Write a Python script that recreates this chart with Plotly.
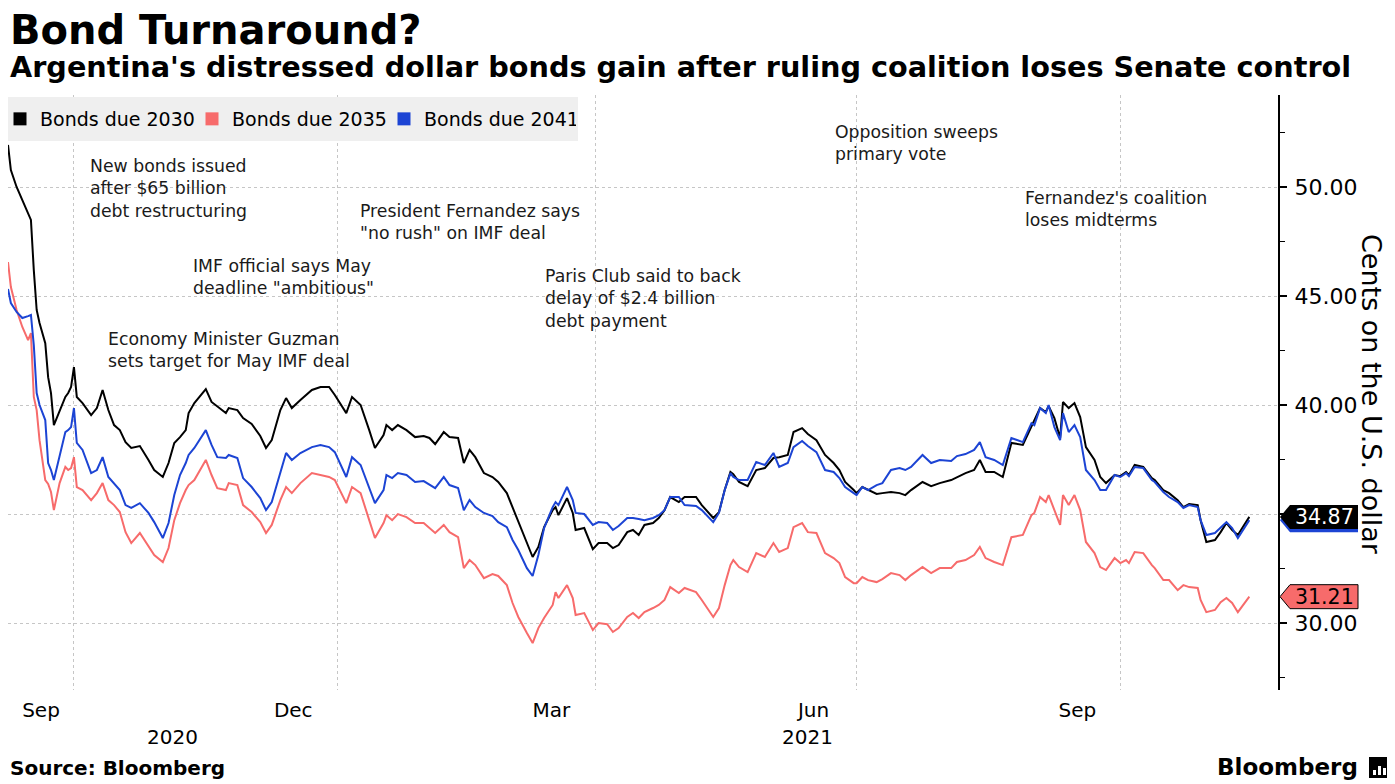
import plotly.graph_objects as go
import pandas as pd

# ---------------- data ----------------
dates = [
    "2020-09-08", "2020-09-09", "2020-09-11", "2020-09-13", "2020-09-15", "2020-09-16", "2020-09-17", "2020-09-18", "2020-09-19", "2020-09-21",
    "2020-09-22", "2020-09-23", "2020-09-24", "2020-09-26", "2020-09-28", "2020-09-29", "2020-09-30", "2020-10-01", "2020-10-02", "2020-10-04",
    "2020-10-07", "2020-10-09", "2020-10-11", "2020-10-13", "2020-10-15", "2020-10-17", "2020-10-19", "2020-10-21", "2020-10-24", "2020-10-27",
    "2020-10-29", "2020-11-01", "2020-11-03", "2020-11-05", "2020-11-07", "2020-11-09", "2020-11-10", "2020-11-12", "2020-11-16", "2020-11-18",
    "2020-11-20", "2020-11-23", "2020-11-24", "2020-11-27", "2020-11-29", "2020-12-02", "2020-12-05", "2020-12-07", "2020-12-09", "2020-12-12",
    "2020-12-14", "2020-12-16", "2020-12-19", "2020-12-23", "2020-12-26", "2020-12-29", "2020-12-31", "2021-01-04", "2021-01-06", "2021-01-09",
    "2021-01-12", "2021-01-14", "2021-01-17", "2021-01-18", "2021-01-20", "2021-01-22", "2021-01-25", "2021-01-28", "2021-01-31", "2021-02-02",
    "2021-02-04", "2021-02-07", "2021-02-09", "2021-02-12", "2021-02-14", "2021-02-16", "2021-02-18", "2021-02-21", "2021-02-24", "2021-02-26",
    "2021-03-01", "2021-03-03", "2021-03-05", "2021-03-08", "2021-03-10", "2021-03-12", "2021-03-14", "2021-03-17", "2021-03-18", "2021-03-19",
    "2021-03-22", "2021-03-24", "2021-03-25", "2021-03-28", "2021-03-31", "2021-04-02", "2021-04-05", "2021-04-07", "2021-04-09", "2021-04-12",
    "2021-04-14", "2021-04-16", "2021-04-18", "2021-04-21", "2021-04-23", "2021-04-25", "2021-04-27", "2021-04-30", "2021-05-02", "2021-05-06",
    "2021-05-08", "2021-05-12", "2021-05-14", "2021-05-16", "2021-05-18", "2021-05-19", "2021-05-21", "2021-05-24", "2021-05-27", "2021-05-30",
    "2021-06-02", "2021-06-04", "2021-06-07", "2021-06-09", "2021-06-12", "2021-06-14", "2021-06-17", "2021-06-20", "2021-06-23", "2021-06-25",
    "2021-06-27", "2021-06-30", "2021-07-01", "2021-07-03", "2021-07-05", "2021-07-08", "2021-07-10", "2021-07-13", "2021-07-16", "2021-07-18",
    "2021-07-20", "2021-07-24", "2021-07-27", "2021-07-30", "2021-08-03", "2021-08-05", "2021-08-08", "2021-08-11", "2021-08-13", "2021-08-15",
    "2021-08-18", "2021-08-21", "2021-08-24", "2021-08-28", "2021-08-31", "2021-09-01", "2021-09-03", "2021-09-05", "2021-09-06", "2021-09-08",
    "2021-09-10", "2021-09-11", "2021-09-13", "2021-09-15", "2021-09-17", "2021-09-19", "2021-09-22", "2021-09-24", "2021-09-26", "2021-09-29",
    "2021-10-01", "2021-10-03", "2021-10-04", "2021-10-06", "2021-10-09", "2021-10-12", "2021-10-13", "2021-10-16", "2021-10-18", "2021-10-21",
    "2021-10-23", "2021-10-25", "2021-10-28", "2021-10-29", "2021-10-31", "2021-11-03", "2021-11-05", "2021-11-07", "2021-11-09", "2021-11-11",
    "2021-11-15",
]

bonds_2030 = [
    51.93, 50.78, 50.00, 49.40, 48.72, 48.49, 46.19, 44.36, 43.76, 42.84,
    41.28, 40.55, 39.08, 39.77, 40.37, 40.55, 40.83, 41.74, 40.37, 40.09,
    39.54, 39.86, 40.69, 39.77, 39.08, 38.85, 38.30, 38.03, 38.12, 37.48,
    37.02, 36.70, 37.34, 38.26, 38.53, 38.85, 39.63, 40.09, 40.73, 40.14,
    39.95, 39.63, 39.86, 39.77, 39.40, 39.13, 38.58, 38.03, 38.39, 39.77,
    40.32, 39.86, 40.23, 40.69, 40.83, 40.83, 40.46, 39.63, 40.37, 40.00,
    38.85, 38.03, 38.62, 39.08, 38.85, 39.08, 38.85, 38.53, 38.58, 38.49,
    38.21, 38.76, 38.53, 38.49, 37.34, 37.94, 37.61, 36.88, 36.70, 36.47,
    35.96, 35.32, 34.59, 33.67, 33.03, 33.49, 34.40, 35.18, 35.32, 34.95,
    35.73, 35.05, 34.27, 34.36, 33.39, 33.67, 33.67, 33.44, 33.58, 34.17,
    34.27, 34.04, 34.50, 34.59, 34.82, 35.18, 35.78, 35.55, 35.78, 35.78,
    35.41, 34.82, 35.09, 36.10, 36.93, 36.83, 36.47, 36.28, 37.02, 37.11,
    37.57, 37.61, 37.71, 38.76, 38.94, 38.67, 38.39, 37.71, 37.34, 37.02,
    36.47, 36.10, 35.96, 36.24, 36.10, 35.92, 35.96, 36.01, 35.96, 35.87,
    36.10, 36.47, 36.28, 36.42, 36.56, 36.70, 36.88, 37.02, 37.48, 36.93,
    36.93, 36.70, 38.26, 38.17, 38.99, 39.31, 39.86, 39.68, 39.95, 39.40,
    38.49, 40.14, 39.86, 40.09, 39.45, 38.07, 37.48, 36.70, 36.42, 36.79,
    36.74, 36.93, 36.79, 37.25, 37.16, 36.65, 36.56, 36.10, 35.96, 35.64,
    35.32, 35.46, 35.41, 34.72, 33.72, 33.81, 34.17, 34.59, 34.27, 34.04,
    34.87,
]

bonds_2035 = [
    46.56, 45.41, 44.36, 43.58, 42.98, 43.30, 40.37, 39.77, 38.39, 36.56,
    36.38, 36.01, 35.18, 36.42, 37.16, 37.02, 37.11, 37.61, 36.24, 36.10,
    35.64, 35.96, 36.42, 35.64, 35.41, 35.09, 34.17, 33.67, 34.13, 33.49,
    33.12, 32.80, 33.44, 34.72, 35.50, 36.10, 36.33, 36.56, 37.48, 36.79,
    36.19, 36.10, 36.42, 36.33, 35.41, 35.09, 34.63, 34.13, 34.50, 35.64,
    36.24, 35.96, 36.42, 36.88, 36.79, 36.70, 36.56, 35.50, 36.24, 35.96,
    34.72, 33.90, 34.59, 34.95, 34.72, 35.00, 34.86, 34.59, 34.59, 34.36,
    34.13, 34.50, 34.17, 33.94, 32.52, 32.89, 32.66, 32.06, 32.25, 32.16,
    31.74, 30.92, 30.28, 29.54, 29.08, 29.77, 30.23, 30.83, 31.42, 31.15,
    31.74, 31.15, 30.37, 30.46, 29.68, 30.00, 29.95, 29.59, 29.77, 30.28,
    30.46, 30.23, 30.50, 30.69, 30.83, 31.06, 31.65, 31.38, 31.61, 31.42,
    31.06, 30.28, 30.69, 31.74, 32.66, 32.89, 32.57, 32.34, 33.21, 33.03,
    33.67, 33.26, 33.44, 34.40, 34.59, 34.17, 34.13, 33.21, 32.98, 32.75,
    32.11, 31.83, 31.83, 32.11, 31.97, 31.88, 32.02, 32.29, 32.20, 31.97,
    32.20, 32.57, 32.29, 32.52, 32.52, 32.80, 32.89, 33.12, 33.49, 32.98,
    32.80, 32.66, 33.94, 34.04, 34.95, 35.05, 35.78, 35.55, 35.87, 35.18,
    34.50, 35.87, 35.41, 35.87, 35.18, 33.72, 33.21, 32.57, 32.43, 32.98,
    32.75, 32.89, 32.75, 33.26, 33.21, 32.66, 32.52, 31.97, 31.97, 31.51,
    31.74, 31.65, 31.61, 31.06, 30.50, 30.60, 30.96, 31.15, 30.92, 30.50,
    31.21,
]

bonds_2041 = [
    45.32, 44.68, 44.27, 43.99, 44.08, 44.13, 42.75, 40.55, 40.00, 39.31,
    37.34, 37.02, 36.56, 37.61, 38.76, 38.85, 38.99, 39.86, 38.26, 37.94,
    36.88, 37.02, 37.61, 36.70, 36.42, 36.10, 35.41, 35.28, 35.50, 35.05,
    34.63, 33.90, 34.59, 35.87, 36.79, 37.34, 37.71, 38.03, 38.85, 38.17,
    37.61, 37.57, 37.71, 37.57, 36.65, 36.24, 35.73, 35.18, 35.55, 36.88,
    37.80, 37.48, 37.80, 38.07, 38.17, 38.07, 37.84, 36.70, 37.61, 37.25,
    36.24, 35.50, 36.10, 36.79, 36.65, 36.88, 36.79, 36.47, 36.51, 36.33,
    36.19, 36.70, 36.33, 36.19, 35.18, 35.64, 35.32, 35.05, 34.91, 34.63,
    34.40, 33.81, 33.35, 32.52, 32.16, 33.12, 34.36, 35.32, 35.55, 35.41,
    36.24, 35.64, 35.05, 35.00, 34.50, 34.63, 34.59, 34.27, 34.45, 34.82,
    34.82, 34.77, 34.72, 34.82, 34.95, 35.18, 35.78, 35.78, 35.41, 35.37,
    35.18, 34.63, 35.05, 36.10, 36.88, 36.70, 36.56, 36.56, 37.39, 37.25,
    37.80, 37.16, 37.34, 38.07, 38.35, 38.12, 37.84, 37.02, 36.93, 36.65,
    36.24, 35.96, 35.87, 36.24, 36.10, 36.33, 36.42, 37.02, 37.11, 37.02,
    37.16, 37.71, 37.34, 37.48, 37.43, 37.66, 37.75, 37.94, 38.30, 37.61,
    37.48, 37.25, 38.49, 38.30, 39.17, 39.08, 39.86, 39.63, 40.00, 38.99,
    38.39, 39.63, 38.76, 39.08, 38.53, 37.02, 36.56, 36.10, 36.10, 36.79,
    36.70, 36.88, 36.74, 37.16, 37.11, 36.56, 36.47, 36.01, 35.78, 35.55,
    35.28, 35.41, 35.32, 34.72, 34.04, 34.13, 34.40, 34.63, 34.36, 33.90,
    34.72,
]

series_names = ["Bonds due 2030", "Bonds due 2035", "Bonds due 2041"]
series_values = [bonds_2030, bonds_2035, bonds_2041]

label_months = ["2020-09", "2020-12", "2021-03", "2021-06", "2021-09"]
month_tick_text = ["Sep", "Dec", "Mar", "Jun", "Sep"]
quarter_grid_dates = ["2020-10-01", "2021-01-01", "2021-04-01", "2021-07-01", "2021-10-01"]
year_labels = ["2020", "2021"]
year_start = "2021-01-01"
x_range = ["2020-09-08", "2021-11-25"]
y_range = [26.93, 54.22]

events = [
    "New bonds issued<br>after $65 billion<br>debt restructuring",
    "IMF official says May<br>deadline \"ambitious\"",
    "Economy Minister Guzman<br>sets target for May IMF deal",
    "President Fernandez says<br>\"no rush\" on IMF deal",
    "Paris Club said to back<br>delay of $2.4 billion<br>debt payment",
    "Opposition sweeps<br>primary vote",
    "Fernandez's coalition<br>loses midterms",
]

# ---------------- styles / layout geometry ----------------
OFF = 8                      # page margin the browser adds around the figure
W, H = 1387, 776             # figure size
FL, FR, FT, FB = 0, 1270, 87, 682   # plot area in figure pixels
FONT = "DejaVu Sans"
colors = ["#000000", "#f76b6b", "#1c44d4"]
GRID = "#c6c6c6"


def px(xr):
    """page x pixel -> paper x"""
    return (xr - OFF - FL) / (FR - FL)


def py(yr):
    """page y pixel -> paper y"""
    return (FB - (yr - OFF)) / (FB - FT)


# page-pixel anchor (left, top) of each event note
event_pos = [(88, 154), (191, 254), (106, 327), (358, 199), (543, 264), (833, 120), (1023, 186)]

fig = go.Figure()

for name, vals, col in zip(series_names, series_values, colors):
    fig.add_trace(go.Scatter(
        x=dates, y=vals, mode="lines", name=name,
        line=dict(color=col, width=2), showlegend=False, hoverinfo="skip",
    ))

# legend entries shown as coloured squares
for name, col in zip(series_names, colors):
    fig.add_trace(go.Scatter(
        x=[None], y=[None], mode="markers", name=name,
        marker=dict(symbol="square", size=13, color=col), showlegend=True,
    ))

# month labels centred on the visible part of each month
r0 = pd.Timestamp(x_range[0]); r1 = pd.Timestamp(x_range[1])
month_tick_vals = []
for m in label_months:
    ms = pd.Timestamp(m + "-01")
    me = ms + pd.offsets.MonthBegin(1)
    a = max(ms, r0); b = min(me, r1)
    month_tick_vals.append(a + (b - a) / 2)

annotations = []

# titles
annotations.append(dict(text="<b>Bond Turnaround?</b>", xref="paper", yref="paper",
                        x=px(8), y=py(30), xanchor="left", yanchor="middle",
                        showarrow=False, font=dict(family=FONT, size=40, color="#000")))
annotations.append(dict(text="<b>Argentina's distressed dollar bonds gain after ruling coalition loses Senate control</b>",
                        xref="paper", yref="paper", x=px(8), y=py(67), xanchor="left", yanchor="middle",
                        showarrow=False, font=dict(family=FONT, size=28.7, color="#000")))

# event notes
for txt, (ex, ey) in zip(events, event_pos):
    annotations.append(dict(text=txt, xref="paper", yref="paper", x=px(ex), y=py(ey),
                            xanchor="left", yanchor="top", align="left", showarrow=False,
                            font=dict(family=FONT, size=17.3, color="#1a1a1a")))

# y-axis title (reads top-to-bottom)
annotations.append(dict(text="Cents on the U.S. dollar", xref="paper", yref="paper",
                        x=px(1372), y=py(394), xanchor="center", yanchor="middle",
                        textangle=90, showarrow=False, font=dict(family=FONT, size=27, color="#000")))

# year labels centred under their portion of the axis
ys = pd.Timestamp(year_start)
year_centres = [r0 + (ys - r0) / 2, ys + (r1 - ys) / 2]
for lab, c in zip(year_labels, year_centres):
    annotations.append(dict(text=lab, xref="x", yref="paper", x=c, y=py(737),
                            xanchor="center", yanchor="middle", showarrow=False,
                            font=dict(family=FONT, size=20, color="#000")))

# source / brand
annotations.append(dict(text="<b>Source: Bloomberg</b>", xref="paper", yref="paper",
                        x=px(8), y=py(768), xanchor="left", yanchor="middle", showarrow=False,
                        font=dict(family=FONT, size=20, color="#000")))
annotations.append(dict(text="<b>Bloomberg</b>", xref="paper", yref="paper",
                        x=px(1360), y=py(767), xanchor="right", yanchor="middle", showarrow=False,
                        font=dict(family=FONT, size=23, color="#000")))

shapes = []
# legend background band
shapes.append(dict(type="rect", xref="paper", yref="paper", x0=px(8), x1=px(578),
                   y0=py(141), y1=py(97), fillcolor="#efefef", line=dict(width=0), layer="above"))
# brand icon
shapes.append(dict(type="rect", xref="paper", yref="paper", x0=px(1369), x1=px(1389),
                   y0=py(778), y1=py(757), fillcolor="#000", line=dict(width=0)))
for bx0, bx1, btop in [(1373, 1376, 770), (1378, 1381, 766), (1383, 1386, 768)]:
    shapes.append(dict(type="rect", xref="paper", yref="paper", x0=px(bx0), x1=px(bx1),
                       y0=py(775), y1=py(btop), fillcolor="#fff", line=dict(width=0)))

# last-value tags (pointer + box drawn as one path in pixel units around the value)
TAG_PATH = "M 2 0 L 12 12 L 80 12 L 80 -12 L 12 -12 Z"
tag_order = [(2, None, 0), (1, "#000000", 1), (0, "#ffffff", 0)]
for idx, fcol, lw in tag_order:
    last = series_values[idx][-1]
    col = colors[idx]
    shapes.append(dict(type="path", xref="paper", yref="y", xsizemode="pixel", ysizemode="pixel",
                       xanchor=1, yanchor=last, path=TAG_PATH, layer="above",
                       fillcolor=col, line=dict(width=lw, color="#000")))
    if fcol is not None:
        annotations.append(dict(text=f"{last:.2f}", xref="paper", yref="y", x=1, y=last,
                                xanchor="center", yanchor="middle", xshift=46, showarrow=False,
                                font=dict(family=FONT, size=20.5, color=fcol)))

fig.update_layout(
    width=W, height=H,
    margin=dict(l=FL, r=W - FR, t=FT, b=H - FB, autoexpand=False),
    paper_bgcolor="#ffffff", plot_bgcolor="#ffffff",
    font=dict(family=FONT, color="#000"),
    annotations=annotations, shapes=shapes,
    showlegend=True,
    legend=dict(orientation="h", x=px(0), y=py(119), xanchor="left", yanchor="middle",
                bgcolor="rgba(0,0,0,0)", font=dict(family=FONT, size=19, color="#000"),
                entrywidth=147, entrywidthmode="pixels", itemwidth=30,
                borderwidth=0, tracegroupgap=0),
    xaxis=dict(
        type="date", range=x_range, showline=False, zeroline=False, automargin=False,
        tickmode="array", tickvals=month_tick_vals, ticktext=month_tick_text,
        ticks="", showgrid=False, ticklabelstandoff=6,
        tickfont=dict(family=FONT, size=20, color="#000"),
        minor=dict(tickmode="array", tickvals=quarter_grid_dates, showgrid=True,
                   gridcolor=GRID, griddash="dot", gridwidth=1, ticks=""),
    ),
    yaxis=dict(
        side="right", range=y_range, showline=True, linecolor="#000", linewidth=2,
        zeroline=False, automargin=False, tickmode="linear", tick0=30, dtick=5, tickformat=".2f",
        ticks="outside", ticklen=7, tickwidth=2, tickcolor="#000",
        showgrid=True, gridcolor=GRID, griddash="dot", gridwidth=1,
        tickfont=dict(family=FONT, size=22, color="#000"), ticklabelstandoff=3,
        minor=dict(tick0=0, dtick=2.5, ticks="outside", ticklen=5, tickwidth=1,
                   tickcolor="#000", showgrid=False),
    ),
)

fig.write_html("out.html")
